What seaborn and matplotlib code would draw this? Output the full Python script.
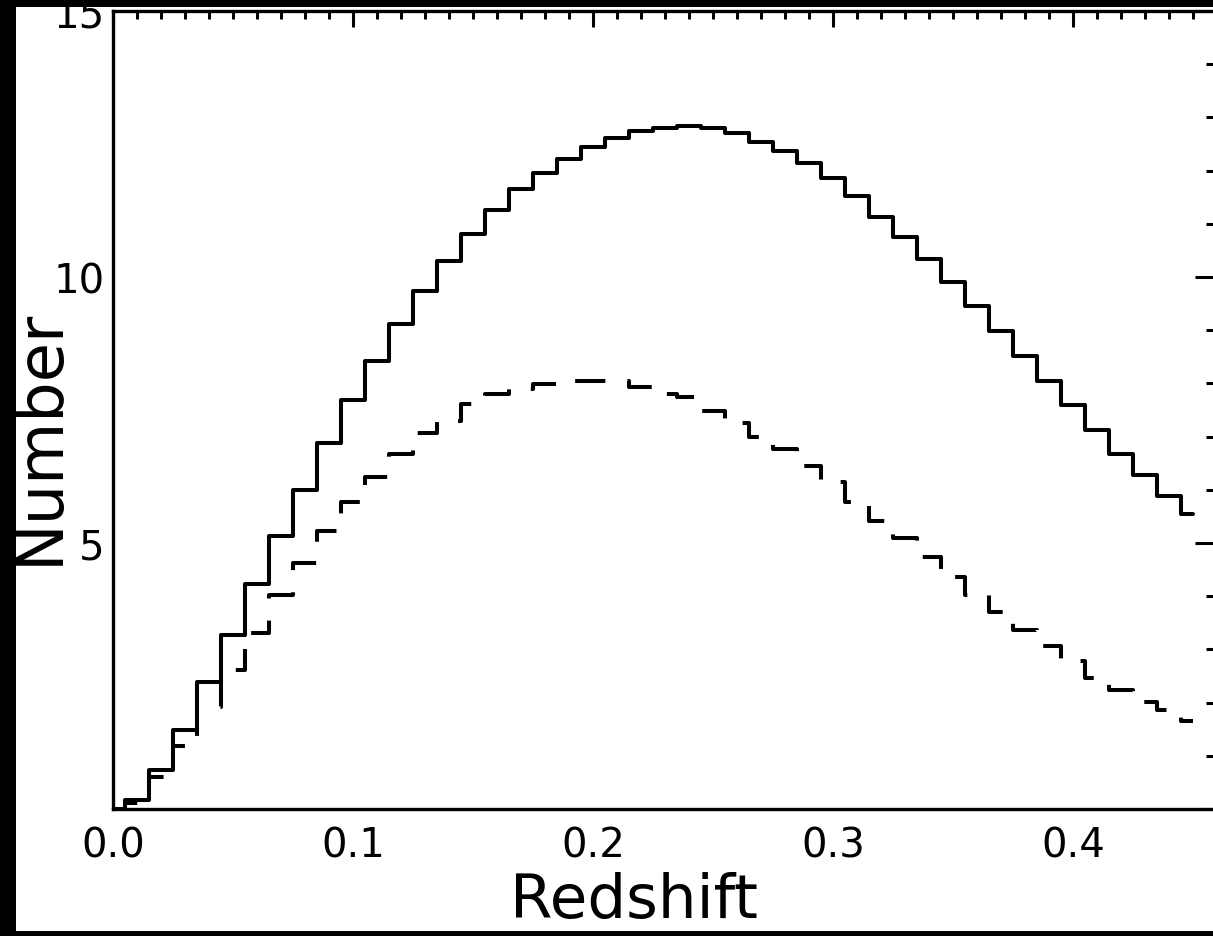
import matplotlib
matplotlib.use("Agg")
import matplotlib.pyplot as plt
import pandas as pd
import seaborn as sns
from matplotlib.ticker import MultipleLocator
from matplotlib.patches import Rectangle

# ---- data (bin centres and counts) ----
redshift = [0.00, 0.01, 0.02, 0.03, 0.04, 0.05, 0.06, 0.07, 0.08, 0.09,
            0.10, 0.11, 0.12, 0.13, 0.14, 0.15, 0.16, 0.17, 0.18, 0.19,
            0.20, 0.21, 0.22, 0.23, 0.24, 0.25, 0.26, 0.27, 0.28, 0.29,
            0.30, 0.31, 0.32, 0.33, 0.34, 0.35, 0.36, 0.37, 0.38, 0.39,
            0.40, 0.41, 0.42, 0.43, 0.44, 0.45]
number_solid = [0.00, 0.17, 0.74, 1.49, 2.38, 3.27, 4.23, 5.13, 6.00, 6.88,
                7.68, 8.43, 9.12, 9.74, 10.31, 10.81, 11.26, 11.65, 11.95, 12.22,
                12.44, 12.61, 12.75, 12.81, 12.84, 12.80, 12.70, 12.54, 12.36, 12.15,
                11.86, 11.52, 11.12, 10.75, 10.33, 9.90, 9.45, 8.99, 8.52, 8.05,
                7.59, 7.13, 6.67, 6.27, 5.89, 5.55]
number_dashed = [0.00, 0.12, 0.60, 1.18, 1.92, 2.62, 3.30, 4.02, 4.62, 5.23,
                 5.77, 6.25, 6.67, 7.06, 7.30, 7.61, 7.80, 7.90, 7.99, 8.05,
                 8.05, 8.05, 7.93, 7.81, 7.75, 7.49, 7.26, 7.00, 6.77, 6.45,
                 6.14, 5.77, 5.42, 5.09, 4.74, 4.37, 4.02, 3.70, 3.37, 3.07,
                 2.79, 2.46, 2.24, 2.02, 1.87, 1.66]
x_ticks = [0.0, 0.1, 0.2, 0.3, 0.4]
x_ticklabels = ["0.0", "0.1", "0.2", "0.3", "0.4"]
y_ticks = [0, 5, 10, 15]
y_ticklabels = ["", "5", "10", "15"]

df = pd.DataFrame({"z": redshift, "solid": number_solid, "dashed": number_dashed})

sns.set_style("white")
plt.rcParams["font.family"] = ["DejaVu Sans"]

W, H = 1213, 937
fig = plt.figure(figsize=(W / 100, H / 100), dpi=100, facecolor="black")
fig.patches.append(Rectangle((16 / W, 5 / H), 1.0, (932 - 8) / H,
                             transform=fig.transFigure, facecolor="white",
                             edgecolor="none", zorder=-10))

left_px, right_px, top_px, bot_px = 113, 1217, 12, 810
ax = fig.add_axes([left_px / W, 1 - bot_px / H, (right_px - left_px) / W, (bot_px - top_px) / H])
ax.set_facecolor("white")
ax.set_zorder(5)

sns.lineplot(data=df, x="z", y="solid", ax=ax, color="black", lw=2.9,
             drawstyle="steps-mid", estimator=None)
sns.lineplot(data=df, x="z", y="dashed", ax=ax, color="black", lw=2.9,
             drawstyle="steps-mid", estimator=None, linestyle=(0, (7.5, 5.5)))

ax.set_xlim(0, 0.46)
ax.set_ylim(0, 15)
ax.set_xticks(x_ticks)
ax.set_xticklabels(x_ticklabels)
ax.set_yticks(y_ticks)
ax.set_yticklabels(y_ticklabels)
ax.xaxis.set_minor_locator(MultipleLocator(0.01))
ax.yaxis.set_minor_locator(MultipleLocator(1))

for s in ax.spines.values():
    s.set_visible(True)
    s.set_linewidth(2.4)
    s.set_color("black")

ax.tick_params(which="both", direction="in", top=True, right=True, width=2.2, color="black",
               labelsize=29, labelcolor="black")
ax.tick_params(axis="x", which="major", length=11.5, pad=12)
ax.tick_params(axis="x", which="minor", length=5.8)
ax.tick_params(axis="y", which="major", length=15.8, pad=6)
ax.tick_params(axis="y", which="minor", length=7.9)

ax.set_xlabel("Redshift", fontsize=44, color="black")
ax.set_ylabel("Number", fontsize=46, color="black")
ax.xaxis.set_label_coords((634 - left_px) / (right_px - left_px), -(902 - bot_px) / (bot_px - top_px))
ax.yaxis.set_label_coords(-(left_px - 40) / (right_px - left_px), (bot_px - 437) / (bot_px - top_px))
ax.xaxis.label.set_va("center")
ax.yaxis.label.set_va("center")

fig.savefig("out.png", dpi=100, facecolor=fig.get_facecolor())
